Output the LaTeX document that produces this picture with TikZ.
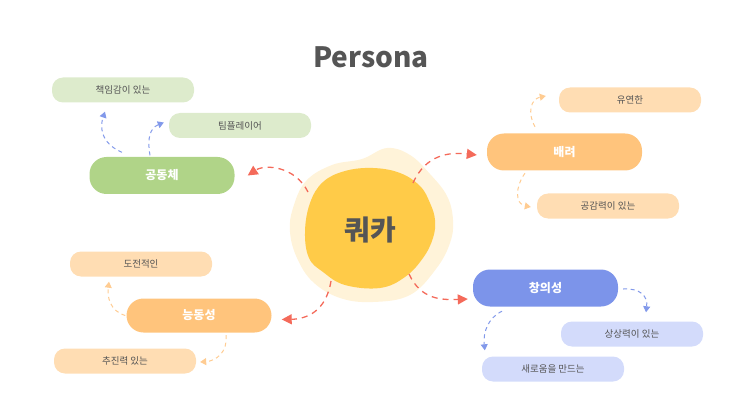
\documentclass[tikz,border=0pt]{standalone}
\usepackage{fontspec}
\setmainfont{Noto Sans CJK KR}
\usetikzlibrary{arrows.meta,calc}
\definecolor{redA}{HTML}{F46A5A}
\definecolor{blueA}{HTML}{8299EA}
\definecolor{peachA}{HTML}{FFCC92}
\definecolor{txt}{HTML}{555555}
\definecolor{greenM}{HTML}{B0D488}
\definecolor{greenL}{HTML}{DDEBCC}
\definecolor{orangeM}{HTML}{FFC47C}
\definecolor{orangeL}{HTML}{FFDDB3}
\definecolor{blueM}{HTML}{7C94EA}
\definecolor{blueL}{HTML}{D3DBFB}
\definecolor{cream}{HTML}{FFF3D9}
\definecolor{yolk}{HTML}{FFCB48}
\begin{document}
\begin{tikzpicture}[x=1pt,y=1pt,
  mainbox/.style={rounded corners=17pt, minimum width=145pt, minimum height=37pt, inner sep=0pt, text=white, font=\bfseries\fontsize{12}{14}\selectfont},
  subbox/.style={rounded corners=11pt, minimum width=142pt, minimum height=25pt, inner sep=0pt, text=txt, font=\fontsize{9.5}{11}\selectfont},
  bigarrow/.style={draw=redA, line width=1.3pt, dash pattern=on 6pt off 5pt, -{Triangle[length=10pt,width=10pt]}},
  smallarrow/.style={line width=1pt, dash pattern=on 4pt off 3.5pt, -{Triangle[length=6pt,width=7pt]}}
]
\useasboundingbox (0,0) rectangle (743,418);

% title
\node[text=txt, font=\bfseries\fontsize{28}{32}\selectfont] (title) at (371,361) {Persona};

% center blob
\fill[cream] plot[smooth cycle, tension=0.65] coordinates {
 (387,270) (362,259) (332,253) (306,237) (293,210) (290,186) (297,160) (313,136)
 (340,120) (373,116) (410,123) (436,149) (450,175) (453,198) (447,222) (430,244) (410,263)};
\fill[yolk] plot[smooth cycle, tension=0.65] coordinates {
 (373,250) (345,247) (323,236) (310,215) (305,186) (309,160) (323,146) (345,133) (380,130)
 (405,141) (423,160) (433,180) (435,198) (430,215) (420,232) (400,245)};
\node[circle, minimum size=130pt, inner sep=0pt, text=txt, font=\bfseries\fontsize{28}{32}\selectfont] (kwak) at (370,188) {쿼카};

% main boxes
\node[mainbox, fill=greenM] (gong) at (162,242.5) {공동체};
\node[mainbox, fill=orangeM, minimum width=155pt] (bae) at (564.5,266) {배려};
\node[mainbox, fill=orangeM, minimum height=34pt] (neung) at (199,102.5) {능동성};
\node[mainbox, fill=blueM] (chang) at (545.5,130) {창의성};

% sub boxes
\node[subbox, fill=greenL] (g1) at (123,328) {책임감이 있는};
\node[subbox, fill=greenL] (g2) at (240,292.5) {팀플레이어};
\node[subbox, fill=orangeL] (b1) at (630,318) {유연한};
\node[subbox, fill=orangeL] (b2) at (608,212) {공감력이 있는};
\node[subbox, fill=orangeL] (n1) at (141,154) {도전적인};
\node[subbox, fill=orangeL] (n2) at (125,57) {추진력 있는};
\node[subbox, fill=blueL] (c1) at (632,84) {상상력이 있는};
\node[subbox, fill=blueL] (c2) at (553,49) {새로움을 만드는};

% red arrows from center
\draw[bigarrow] ($(kwak.center)+(-62,38)$) .. controls (295,252) and (265,254) .. ($(gong.east)+(13,0)$);
\draw[bigarrow] ($(kwak.center)+(43,47)$) .. controls (426,264) and (450,266) .. ($(bae.west)+(-10,-3)$);
\draw[bigarrow] ($(kwak.center)+(-39,-51)$) .. controls (326,106) and (306,99) .. ($(neung.east)+(10,-4)$);
\draw[bigarrow] ($(kwak.center)+(39,-44)$) .. controls (421,118) and (442,118) .. ($(chang.west)+(-5,-11)$);

% small arrows
\draw[smallarrow, draw=blueA] ($(gong.north)+(-40,4.5)$) .. controls (100,275) and (100,292) .. ($(g1.south)+(-18,-9)$);
\draw[smallarrow, draw=blueA] ($(gong.north)+(-12,1.5)$) .. controls (147,280) and (150,290) .. ($(g2.west)+(-5,3)$);
\draw[smallarrow, draw=peachA] ($(bae.north)+(-29.5,6.5)$) .. controls (527,306) and (531,319) .. ($(b1.west)+(-13,4)$);
\draw[smallarrow, draw=peachA] ($(bae.south)+(-39.5,-2.5)$) .. controls (515,231) and (515,214) .. ($(b2.west)+(-6,-1)$);
\draw[smallarrow, draw=peachA] ($(neung.west)+(-1,0)$) .. controls (110,107) and (107,121) .. ($(n1.south)+(-32,-5)$);
\draw[smallarrow, draw=peachA] ($(neung.south)+(27,-2.5)$) .. controls (228,66) and (216,57) .. ($(n2.east)+(4,-1)$);
\draw[smallarrow, draw=blueA] ($(chang.east)+(5,-1)$) .. controls (640,130) and (648,122) .. ($(c1.north)+(14,9)$);
\draw[smallarrow, draw=blueA] ($(chang.south)+(-43.5,-4.5)$) .. controls (488,100) and (483,86) .. ($(c2.north west)+(3,6)$);
\end{tikzpicture}
\end{document}
